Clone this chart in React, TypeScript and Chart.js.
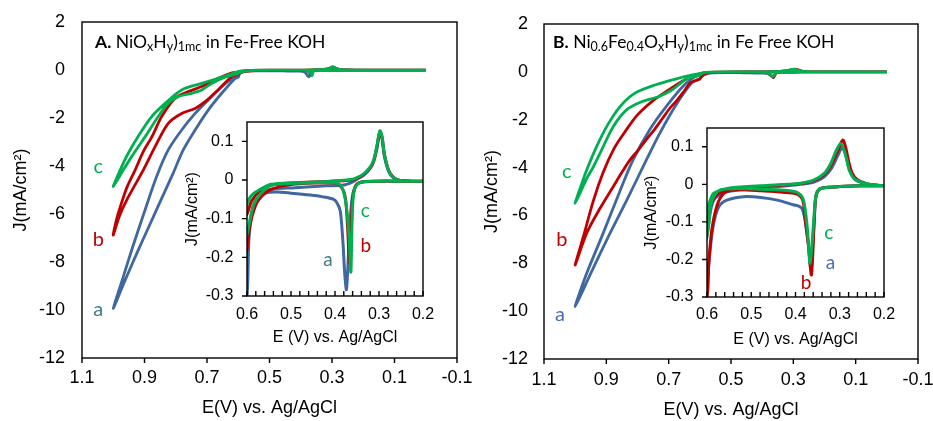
import React, { useEffect, useRef } from 'react';
import { Chart, registerables } from 'chart.js';

Chart.register(...registerables);

const W = 933;
const H = 421;

const BLUE = '#4068A0';
const RED = '#C00000';
const GREEN = '#00B050';
const A_LABEL_LEFT = '#3F7D8B';
const A_LABEL_RIGHT = '#4A6FB0';
const TICK_FONT = "'Liberation Sans', Arial, Helvetica, sans-serif";
const LABEL_FONT = "Lato, 'Open Sans', sans-serif";

// axis tick values
const MAIN_X_TICKS = [-0.1, 0.1, 0.3, 0.5, 0.7, 0.9, 1.1];
const MAIN_Y_TICKS = [-12, -10, -8, -6, -4, -2, 0, 2];
const INSET_X_TICKS = [0.2, 0.3, 0.4, 0.5, 0.6];
const INSET_Y_TICKS = [-0.3, -0.2, -0.1, 0, 0.1];

// ---------------- Panel A : NiOxHy in Fe-free KOH ----------------
// curve a (blue): forward scan 0 -> 1.0 V, then reverse scan 1.0 -> 0 V
const A_a_fwdE = [0.00, 0.10, 0.20, 0.25, 0.30, 0.33, 0.345, 0.352, 0.359, 0.364, 0.369, 0.374, 0.378, 0.382, 0.388, 0.395, 0.403, 0.43, 0.456, 0.50, 0.532, 0.55, 0.562, 0.572, 0.581, 0.587, 0.592, 0.596, 0.60, 0.61, 0.653, 0.696, 0.738, 0.776, 0.81, 0.845, 0.885, 0.925, 0.965, 1.00];
const A_a_fwdJ = [-0.003, -0.003, -0.003, -0.003, -0.003, -0.004, -0.008, -0.015, -0.033, -0.08, -0.183, -0.283, -0.24, -0.16, -0.08, -0.06, -0.05, -0.043, -0.039, -0.034, -0.031, -0.032, -0.037, -0.05, -0.062, -0.08, -0.106, -0.16, -0.3, -0.35, -0.97, -1.67, -2.5, -3.33, -4.35, -5.35, -6.5, -7.65, -8.85, -9.93];
const A_a_revE = [0.97, 0.941, 0.90, 0.86, 0.824, 0.781, 0.738, 0.696, 0.653, 0.61, 0.60, 0.595, 0.588, 0.58, 0.57, 0.545, 0.49, 0.42, 0.38, 0.36, 0.35, 0.335, 0.32, 0.312, 0.305, 0.298, 0.293, 0.288, 0.278, 0.267, 0.252, 0.20, 0.10, 0.00];
const A_a_revJ = [-8.7, -7.5, -5.9, -4.4, -3.33, -2.5, -1.81, -1.25, -0.69, -0.25, -0.19, -0.12, -0.075, -0.052, -0.041, -0.024, -0.02, -0.015, -0.013, -0.005, 0.002, 0.012, 0.03, 0.048, 0.08, 0.12, 0.106, 0.062, 0.022, 0.005, -0.001, -0.003, -0.003, -0.003];

// curve b (red)
const A_b_fwdE = [0.00, 0.10, 0.20, 0.25, 0.30, 0.34, 0.35, 0.355, 0.36, 0.363, 0.367, 0.371, 0.375, 0.38, 0.39, 0.403, 0.45, 0.50, 0.545, 0.57, 0.585, 0.595, 0.60, 0.621, 0.664, 0.706, 0.738, 0.781, 0.824, 0.866, 0.904, 0.957, 0.981, 1.00];
const A_b_fwdJ = [-0.003, -0.003, -0.003, -0.003, -0.003, -0.005, -0.01, -0.02, -0.05, -0.12, -0.215, -0.13, -0.06, -0.03, -0.013, -0.008, -0.008, -0.012, -0.024, -0.045, -0.08, -0.13, -0.18, -0.28, -0.83, -1.32, -1.60, -1.81, -2.22, -3.19, -4.17, -5.42, -6.11, -6.875];
const A_b_revE = [0.99, 0.975, 0.955, 0.93, 0.904, 0.875, 0.845, 0.802, 0.76, 0.717, 0.664, 0.62, 0.60, 0.59, 0.57, 0.545, 0.49, 0.42, 0.36, 0.35, 0.335, 0.32, 0.312, 0.305, 0.298, 0.293, 0.288, 0.278, 0.267, 0.252, 0.20, 0.10, 0.00];
const A_b_revJ = [-6.25, -5.6, -4.85, -4.17, -3.4, -2.75, -1.94, -1.18, -0.90, -0.69, -0.35, -0.12, -0.088, -0.055, -0.028, -0.013, -0.007, -0.004, 0.0, 0.005, 0.014, 0.032, 0.05, 0.085, 0.125, 0.11, 0.068, 0.025, 0.007, -0.001, -0.003, -0.003, -0.003];

// curve c (green)
const A_c_fwdE = [0.00, 0.10, 0.20, 0.25, 0.30, 0.34, 0.352, 0.358, 0.361, 0.364, 0.368, 0.373, 0.379, 0.388, 0.403, 0.45, 0.50, 0.545, 0.57, 0.585, 0.60, 0.642, 0.685, 0.717, 0.749, 0.792, 0.824, 0.856, 0.898, 0.941, 0.968, 1.00];
const A_c_fwdJ = [-0.003, -0.003, -0.003, -0.003, -0.003, -0.005, -0.015, -0.037, -0.1, -0.238, -0.15, -0.08, -0.037, -0.013, -0.007, -0.007, -0.009, -0.014, -0.037, -0.065, -0.14, -0.3, -0.56, -0.83, -0.97, -1.11, -1.39, -1.94, -2.78, -3.61, -4.17, -4.86];
const A_c_revE = [0.978, 0.952, 0.914, 0.877, 0.834, 0.781, 0.717, 0.642, 0.60, 0.59, 0.57, 0.545, 0.49, 0.42, 0.36, 0.35, 0.335, 0.32, 0.312, 0.305, 0.298, 0.293, 0.288, 0.278, 0.267, 0.252, 0.20, 0.10, 0.00];
const A_c_revJ = [-4.17, -3.47, -2.64, -1.94, -1.39, -0.83, -0.56, -0.25, -0.063, -0.04, -0.024, -0.011, -0.007, -0.004, 0.002, 0.006, 0.016, 0.034, 0.052, 0.087, 0.127, 0.112, 0.068, 0.024, 0.006, -0.001, -0.003, -0.003, -0.003];

// ---------------- Panel B : Ni0.6Fe0.4OxHy in Fe-free KOH ----------------
const B_a_fwdE = [0.00, 0.10, 0.20, 0.25, 0.30, 0.327, 0.346, 0.354, 0.358, 0.365, 0.371, 0.377, 0.385, 0.395, 0.403, 0.441, 0.479, 0.517, 0.555, 0.573, 0.585, 0.592, 0.598, 0.60, 0.625, 0.675, 0.73, 0.782, 0.834, 0.888, 0.95, 1.00];
const B_a_fwdJ = [-0.004, -0.004, -0.004, -0.004, -0.006, -0.008, -0.013, -0.033, -0.104, -0.225, -0.16, -0.104, -0.065, -0.057, -0.055, -0.042, -0.035, -0.033, -0.042, -0.059, -0.104, -0.165, -0.245, -0.29, -0.45, -1.35, -2.6, -3.96, -5.35, -6.74, -8.42, -9.81];
const B_a_revE = [0.963, 0.91, 0.86, 0.815, 0.76, 0.705, 0.65, 0.615, 0.60, 0.59, 0.58, 0.555, 0.479, 0.42, 0.388, 0.358, 0.335, 0.32, 0.305, 0.295, 0.288, 0.282, 0.275, 0.265, 0.244, 0.221, 0.20, 0.10, 0.00];
const B_a_revJ = [-8.42, -6.74, -5.1, -3.7, -2.4, -1.4, -0.55, -0.2, -0.13, -0.06, -0.035, -0.02, -0.01, -0.004, 0.0, 0.006, 0.02, 0.04, 0.075, 0.097, 0.085, 0.055, 0.03, 0.012, 0.002, -0.002, -0.004, -0.004, -0.004];

const B_b_fwdE = [0.00, 0.10, 0.20, 0.25, 0.30, 0.327, 0.346, 0.354, 0.358, 0.364, 0.37, 0.377, 0.382, 0.388, 0.403, 0.479, 0.539, 0.562, 0.577, 0.589, 0.596, 0.60, 0.63, 0.65, 0.674, 0.695, 0.72, 0.745, 0.77, 0.797, 0.824, 0.85, 0.878, 0.92, 0.963, 1.00];
const B_b_fwdJ = [-0.004, -0.004, -0.004, -0.004, -0.006, -0.008, -0.013, -0.033, -0.104, -0.241, -0.17, -0.104, -0.05, -0.033, -0.024, -0.017, -0.015, -0.024, -0.055, -0.121, -0.21, -0.3, -0.45, -0.8, -1.2, -1.5, -1.95, -2.4, -2.8, -3.26, -3.68, -4.2, -4.8, -5.7, -6.74, -8.07];
const B_b_revE = [0.974, 0.942, 0.91, 0.875, 0.84, 0.80, 0.75, 0.70, 0.66, 0.625, 0.60, 0.59, 0.58, 0.555, 0.479, 0.42, 0.388, 0.358, 0.335, 0.32, 0.305, 0.293, 0.286, 0.28, 0.272, 0.26, 0.24, 0.221, 0.20, 0.10, 0.00];
const B_b_revJ = [-6.9, -5.4, -4.2, -3.2, -2.5, -1.8, -1.2, -0.75, -0.42, -0.17, -0.1, -0.05, -0.03, -0.015, -0.006, -0.001, 0.002, 0.01, 0.026, 0.05, 0.088, 0.118, 0.095, 0.062, 0.03, 0.012, 0.002, -0.002, -0.004, -0.004, -0.004];

const B_c_fwdE = [0.00, 0.10, 0.20, 0.25, 0.30, 0.327, 0.346, 0.354, 0.359, 0.367, 0.373, 0.379, 0.385, 0.403, 0.479, 0.539, 0.57, 0.585, 0.592, 0.60, 0.625, 0.648, 0.69, 0.733, 0.787, 0.835, 0.878, 0.915, 0.947, 0.96, 1.00];
const B_c_fwdJ = [-0.004, -0.004, -0.004, -0.004, -0.006, -0.008, -0.013, -0.033, -0.1, -0.21, -0.12, -0.06, -0.033, -0.019, -0.013, -0.0115, -0.015, -0.033, -0.059, -0.14, -0.22, -0.34, -0.76, -1.04, -1.25, -1.59, -2.29, -3.26, -4.1, -4.38, -5.49];
const B_c_revE = [0.971, 0.963, 0.936, 0.899, 0.856, 0.808, 0.744, 0.669, 0.63, 0.60, 0.592, 0.585, 0.555, 0.479, 0.42, 0.388, 0.358, 0.335, 0.32, 0.308, 0.298, 0.29, 0.284, 0.278, 0.267, 0.244, 0.221, 0.20, 0.10, 0.00];
const B_c_revJ = [-4.38, -4.1, -3.26, -2.29, -1.45, -0.89, -0.55, -0.27, -0.15, -0.068, -0.04, -0.024, -0.011, -0.004, 0.0, 0.003, 0.012, 0.029, 0.056, 0.09, 0.109, 0.09, 0.065, 0.036, 0.015, 0.003, -0.002, -0.004, -0.004, -0.004];

// curve labels (text, E, J)
const A_mainLabels = [
  { text: 'c', x: 1.048, y: -4.03, color: GREEN },
  { text: 'b', x: 1.048, y: -7.08, color: RED },
  { text: 'a', x: 1.048, y: -10.0, color: A_LABEL_LEFT },
];
const A_insetLabels = [
  { text: 'c', x: 0.331, y: -0.08, color: GREEN },
  { text: 'b', x: 0.330, y: -0.171, color: RED },
  { text: 'a', x: 0.416, y: -0.207, color: A_LABEL_LEFT },
];
const B_mainLabels = [
  { text: 'c', x: 1.027, y: -4.17, color: GREEN },
  { text: 'b', x: 1.043, y: -7.02, color: RED },
  { text: 'a', x: 1.049, y: -10.16, color: A_LABEL_RIGHT },
];
const B_insetLabels = [
  { text: 'c', x: 0.325, y: -0.13, color: GREEN },
  { text: 'a', x: 0.321, y: -0.21, color: A_LABEL_RIGHT },
  { text: 'b', x: 0.376, y: -0.263, color: RED },
];

const MAIN_X_TITLE = 'E(V) vs. Ag/AgCl';
const INSET_X_TITLE = 'E (V) vs. Ag/AgCl';
const Y_TITLE = 'J(mA/cm²)';

// -------------------------------------------------------------------
type Series = { E: number[]; J: number[]; color: string };

const seriesA: Series[] = [
  { E: [...A_c_fwdE, ...A_c_revE], J: [...A_c_fwdJ, ...A_c_revJ], color: GREEN },
  { E: [...A_b_fwdE, ...A_b_revE], J: [...A_b_fwdJ, ...A_b_revJ], color: RED },
  { E: [...A_a_fwdE, ...A_a_revE], J: [...A_a_fwdJ, ...A_a_revJ], color: BLUE },
];
const seriesB: Series[] = [
  { E: [...B_c_fwdE, ...B_c_revE], J: [...B_c_fwdJ, ...B_c_revJ], color: GREEN },
  { E: [...B_b_fwdE, ...B_b_revE], J: [...B_b_fwdJ, ...B_b_revJ], color: RED },
  { E: [...B_a_fwdE, ...B_a_revE], J: [...B_a_fwdJ, ...B_a_revJ], color: BLUE },
];

const fmt = (v: any) => String(Math.round(Number(v) * 100) / 100);

const decor = {
  id: 'decor',
  beforeDatasetsDraw(chart: any, _a: any, o: any) {
    if (!o.white) return;
    const { ctx, chartArea: c } = chart;
    ctx.save();
    ctx.fillStyle = '#fff';
    ctx.fillRect(c.left, c.top, c.right - c.left, c.bottom - c.top);
    ctx.restore();
  },
  afterDatasetsDraw(chart: any, _a: any, o: any) {
    const { ctx, chartArea: c, scales } = chart;
    const xs = scales.x;
    const ys = scales.y;
    ctx.save();
    ctx.strokeStyle = '#000';
    ctx.lineWidth = o.frameWidth;
    ctx.strokeRect(c.left, c.top, c.right - c.left, c.bottom - c.top);
    ctx.beginPath();
    if (o.xTickLen) {
      let vals: number[] = xs.ticks.map((t: any) => t.value);
      if (o.xMinor) {
        vals = [];
        for (let i = 0; xs.min + i * o.xMinor <= xs.max + 1e-9; i++) vals.push(xs.min + i * o.xMinor);
      }
      for (const v of vals) {
        const p = xs.getPixelForValue(v);
        ctx.moveTo(p, c.bottom);
        ctx.lineTo(p, c.bottom + o.xTickLen);
      }
    }
    if (o.yTickLen) {
      for (const t of ys.ticks) {
        const p = ys.getPixelForValue(t.value);
        ctx.moveTo(c.left, p);
        ctx.lineTo(c.left - o.yTickLen, p);
      }
    }
    ctx.stroke();
    ctx.font = o.labelFont;
    ctx.textAlign = 'center';
    ctx.textBaseline = 'middle';
    for (const l of o.labels) {
      ctx.fillStyle = l.color;
      ctx.fillText(l.text, xs.getPixelForValue(l.x), ys.getPixelForValue(l.y));
    }
    ctx.restore();
  },
};

type Geo = {
  padding: { left: number; top: number; right: number; bottom: number };
  yWidth: number;
  xHeight: number;
  yTickPad: number;
  xTickPad: number;
  yTitlePad: number;
  xTitlePad: number;
};

function makeConfig(series: Series[], inset: boolean, geo: Geo, labels: any[]) {
  const size = inset ? 16 : 18;
  const font = { family: TICK_FONT, size };
  const xTicks = inset ? INSET_X_TICKS : MAIN_X_TICKS;
  const yTicks = inset ? INSET_Y_TICKS : MAIN_Y_TICKS;
  return {
    type: 'line',
    data: {
      datasets: series.map((s) => ({
        data: s.E.map((e, i) => ({ x: e, y: s.J[i] })),
        borderColor: s.color,
        backgroundColor: s.color,
        borderWidth: inset ? 3 : 2.8,
        pointRadius: 0,
        tension: 0.3,
        fill: false,
      })),
    },
    options: {
      responsive: false,
      maintainAspectRatio: false,
      animation: false,
      events: [],
      layout: { padding: geo.padding },
      plugins: {
        legend: { display: false },
        tooltip: { enabled: false },
        decor: {
          white: inset,
          frameWidth: 1.4,
          xTickLen: inset ? -5 : 5,
          xMinor: inset ? 0.02 : 0,
          yTickLen: inset ? 5 : 0,
          labels,
          labelFont: `${inset ? 19 : 20}px ${LABEL_FONT}`,
        },
      },
      scales: {
        x: {
          type: 'linear',
          reverse: true,
          min: inset ? 0.2 : -0.1,
          max: inset ? 0.6 : 1.1,
          afterBuildTicks: (s: any) => {
            s.ticks = xTicks.map((v) => ({ value: v }));
          },
          ticks: {
            padding: geo.xTickPad,
            font,
            color: '#000',
            maxRotation: 0,
            autoSkip: false,
            callback: fmt,
          },
          grid: { display: false, drawTicks: false },
          border: { display: false },
          title: {
            display: true,
            text: inset ? INSET_X_TITLE : MAIN_X_TITLE,
            font,
            color: '#000',
            padding: { top: 0, bottom: geo.xTitlePad },
          },
          afterFit: (s: any) => {
            s.height = geo.xHeight;
            s.paddingLeft = 0;
            s.paddingRight = 0;
          },
        },
        y: {
          type: 'linear',
          min: inset ? -0.3 : -12,
          max: inset ? 0.15 : 2,
          afterBuildTicks: (s: any) => {
            s.ticks = yTicks.map((v) => ({ value: v }));
          },
          ticks: {
            padding: geo.yTickPad,
            font,
            color: '#000',
            autoSkip: false,
            callback: fmt,
          },
          grid: { display: false, drawTicks: false },
          border: { display: false },
          title: {
            display: true,
            text: Y_TITLE,
            font,
            color: '#000',
            padding: { top: geo.yTitlePad, bottom: 0 },
          },
          afterFit: (s: any) => {
            s.width = geo.yWidth;
            s.paddingTop = 0;
            s.paddingBottom = 0;
          },
        },
      },
    },
    plugins: [decor],
  };
}

const geoMainA: Geo = { padding: { left: 0, top: 22, right: W - 457, bottom: 0 }, yWidth: 82, xHeight: 63, yTickPad: 17, xTickPad: 9, yTitlePad: 10, xTitlePad: 2 };
const geoMainB: Geo = { padding: { left: 466, top: 24, right: W - 918, bottom: 0 }, yWidth: 78, xHeight: 62, yTickPad: 16, xTickPad: 10, yTitlePad: 15, xTitlePad: 0 };
const geoInsetA: Geo = { padding: { left: 175, top: 122, right: W - 423, bottom: 71 }, yWidth: 72, xHeight: 54, yTickPad: 13.7, xTickPad: 9.4, yTitlePad: 8.4, xTitlePad: 2.7 };
const geoInsetB: Geo = { padding: { left: 635, top: 128, right: W - 884, bottom: 69 }, yWidth: 72, xHeight: 55, yTickPad: 13.7, xTickPad: 8.4, yTitlePad: 7.1, xTitlePad: 2.4 };

function ChartLayer({ make }: { make: () => any }) {
  const ref = useRef<HTMLCanvasElement>(null);
  useEffect(() => {
    const chart = new Chart(ref.current as HTMLCanvasElement, make());
    return () => chart.destroy();
  }, []);
  return (
    <canvas
      ref={ref}
      width={W}
      height={H}
      style={{ position: 'absolute', left: 0, top: 0, width: W, height: H }}
    />
  );
}

const subStyle: React.CSSProperties = { fontSize: '12.5px', verticalAlign: '-3px', lineHeight: 0 };
const titleStyle: React.CSSProperties = {
  position: 'absolute',
  top: 33,
  fontFamily: LABEL_FONT,
  fontSize: '17.5px',
  lineHeight: '17px',
  whiteSpace: 'nowrap',
  color: '#000',
};

export default function App() {
  return (
    <div style={{ position: 'fixed', left: 0, top: 0, width: W, height: H, overflow: 'hidden', background: '#fff' }}>
      <ChartLayer make={() => makeConfig(seriesA, false, geoMainA, A_mainLabels)} />
      <ChartLayer make={() => makeConfig(seriesB, false, geoMainB, B_mainLabels)} />
      <ChartLayer make={() => makeConfig(seriesA, true, geoInsetA, A_insetLabels)} />
      <ChartLayer make={() => makeConfig(seriesB, true, geoInsetB, B_insetLabels)} />
      <div style={{ ...titleStyle, left: 95 }}>
        <b>A.</b> NiO<sub style={subStyle}>x</sub>H<sub style={subStyle}>y</sub>)<sub style={subStyle}>1mc</sub> in Fe-Free KOH
      </div>
      <div style={{ ...titleStyle, left: 553 }}>
        <b>B.</b> Ni<sub style={subStyle}>0.6</sub>Fe<sub style={subStyle}>0.4</sub>O<sub style={subStyle}>x</sub>H<sub style={subStyle}>y</sub>)<sub style={subStyle}>1mc</sub> in Fe Free KOH
      </div>
    </div>
  );
}
